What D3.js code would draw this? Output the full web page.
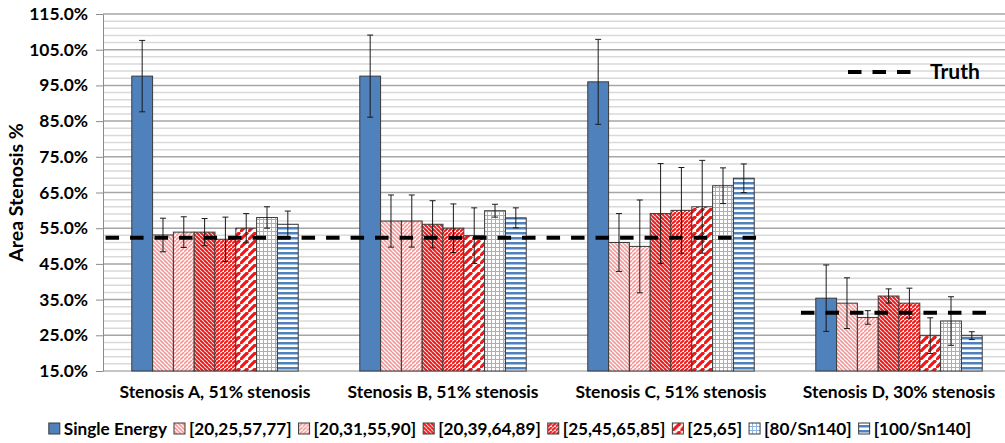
<!DOCTYPE html>
<html>
<head>
<meta charset="utf-8">
<script src="https://cdn.jsdelivr.net/npm/d3@7"></script>
<style>
  body { margin: 0; background: #fff; }
  text { font-family: Lato, "Open Sans", sans-serif; font-weight: bold; fill: #000; }
</style>
</head>
<body>
<svg width="1005" height="443"></svg>
<script>
const groups = ['Stenosis A, 51% stenosis', 'Stenosis B, 51% stenosis', 'Stenosis C, 51% stenosis', 'Stenosis D, 30% stenosis'];
const series = ['Single Energy', '[20,25,57,77]', '[20,31,55,90]', '[20,39,64,89]', '[25,45,65,85]', '[25,65]', '[80/Sn140]', '[100/Sn140]'];

// mean area stenosis per group (one value per series)
const meansA = [97.6, 53.1, 53.9, 53.9, 51.9, 55.0, 58.0, 56.1];
const meansB = [97.6, 57.0, 57.0, 56.1, 55.0, 52.9, 59.9, 57.9];
const meansC = [96.0, 51.0, 49.9, 59.1, 60.0, 61.0, 66.9, 69.0];
const meansD = [35.4, 34.0, 30.0, 36.0, 34.0, 24.9, 29.0, 24.9];
// error bar half widths
const errA = [10.0, 4.7, 4.3, 3.8, 6.2, 4.1, 3.0, 3.7];
const errB = [11.5, 7.3, 7.3, 6.6, 6.8, 7.8, 1.8, 2.8];
const errC = [11.9, 8.1, 13.0, 14.0, 12.0, 13.0, 5.0, 4.0];
const errD = [9.3, 7.1, 1.9, 2.0, 4.2, 5.0, 6.8, 1.1];
const truth = [52.3, 52.3, 52.3, 31.3];

const yTicks = [15, 25, 35, 45, 55, 65, 75, 85, 95, 105, 115];

const means = [meansA, meansB, meansC, meansD];
const errs = [errA, errB, errC, errD];

const data = [];
groups.forEach((g, gi) => {
    series.forEach((s, si) => {
        data.push({group: g, series: s, value: means[gi][si], err: errs[gi][si]});
    });
});

const svg = d3.select('svg');
const axisX = 103, plotRight = 1005;

const xScale = d3.scaleBand()
    .domain(groups)
    .range([101, 1013])
    .paddingInner(0.27)
    .paddingOuter(0.135);

const x1 = d3.scaleBand()
    .domain(series)
    .range([0, xScale.bandwidth()]);

const yScale = d3.scaleLinear()
    .domain([15, 115])
    .range([371, 14]);

// patterns
const defs = svg.append('defs');
function diag(id, size, color, width, dir) {
    const p = defs.append('pattern')
        .attr('id', id)
        .attr('patternUnits', 'userSpaceOnUse')
        .attr('width', size).attr('height', size);
    p.append('rect').attr('width', size).attr('height', size).attr('fill', '#fff');
    const s = size;
    const lines = dir === 'up'
        ? [[0, s, s, 0], [-s, s, 0, 0], [s, s * 2, s * 2, s]]
        : [[0, 0, s, s], [-s, 0, 0, s], [0, -s, s, 0], [s, 0, s * 2, s], [0, s, s, s * 2]];
    lines.forEach(l => p.append('line')
        .attr('x1', l[0]).attr('y1', l[1]).attr('x2', l[2]).attr('y2', l[3])
        .attr('stroke', color).attr('stroke-width', width));
}
diag('p1', 4, '#f59a9a', 1.7, 'down');
diag('p2', 4, '#f59a9a', 1.7, 'up');
diag('p3', 4, '#f01818', 2.0, 'down');
diag('p4', 4, '#f01818', 2.0, 'up');
diag('p5', 8, '#f01818', 3.2, 'up');

const grid = defs.append('pattern').attr('id', 'p6')
    .attr('patternUnits', 'userSpaceOnUse').attr('width', 4).attr('height', 4);
grid.append('rect').attr('width', 4).attr('height', 4).attr('fill', '#fff');
grid.append('rect').attr('x', 0).attr('y', 3).attr('width', 4).attr('height', 1).attr('fill', '#8fb4e3');
grid.append('rect').attr('x', 3).attr('y', 0).attr('width', 1).attr('height', 4).attr('fill', '#8fb4e3');

const hor = defs.append('pattern').attr('id', 'p7')
    .attr('patternUnits', 'userSpaceOnUse').attr('width', 5).attr('height', 5);
hor.append('rect').attr('width', 5).attr('height', 5).attr('fill', '#fff');
hor.append('rect').attr('y', 2).attr('width', 5).attr('height', 2.5).attr('fill', '#4f81bd');

const fills = ['#4f81bd', 'url(#p1)', 'url(#p2)', 'url(#p3)', 'url(#p4)', 'url(#p5)', 'url(#p6)', 'url(#p7)'];
const fillScale = d3.scaleOrdinal().domain(series).range(fills);

// gridlines
const minor = d3.range(17, 115, 2).filter(v => (v - 15) % 10 !== 0);
svg.append('g').selectAll('line').data(minor).enter().append('line')
    .attr('x1', axisX).attr('x2', plotRight)
    .attr('y1', d => yScale(d)).attr('y2', d => yScale(d))
    .attr('stroke', '#d9d9d9').attr('stroke-width', 1.5);
svg.append('g').selectAll('line').data(yTicks.slice(1)).enter().append('line')
    .attr('x1', axisX).attr('x2', plotRight)
    .attr('y1', d => yScale(d)).attr('y2', d => yScale(d))
    .attr('stroke', '#a6a6a6').attr('stroke-width', 1.5);

// y axis
const yAxis = d3.axisLeft(yScale)
    .tickValues(yTicks)
    .tickFormat(d => d3.format('.1f')(d) + '%')
    .tickSize(7)
    .tickSizeOuter(0)
    .tickPadding(8);
const yAxisG = svg.append('g')
    .attr('transform', `translate(${axisX},0)`)
    .call(yAxis);
yAxisG.selectAll('.domain').attr('stroke', '#8c8c8c');
yAxisG.selectAll('.tick line').attr('stroke', '#8c8c8c');
yAxisG.selectAll('text')
    .attr('font-family', null).attr('font-size', null)
    .style('font-size', '17.4px');

svg.append('text')
    .attr('transform', `translate(23,${(yScale(115) + yScale(15)) / 2}) rotate(-90)`)
    .attr('text-anchor', 'middle')
    .style('font-size', '19.5px')
    .text('Area Stenosis %');

// x axis line
svg.append('line')
    .attr('x1', axisX).attr('x2', plotRight)
    .attr('y1', yScale(15)).attr('y2', yScale(15))
    .attr('stroke', '#8c8c8c').attr('stroke-width', 1);

svg.append('g').selectAll('text').data(groups).enter().append('text')
    .attr('x', d => xScale(d) + xScale.bandwidth() / 2)
    .attr('y', 398)
    .attr('text-anchor', 'middle')
    .style('font-size', '17.5px')
    .text(d => d);

// bars
svg.append('g').selectAll('rect').data(data).enter().append('rect')
    .attr('x', d => xScale(d.group) + x1(d.series))
    .attr('y', d => yScale(d.value))
    .attr('width', x1.bandwidth())
    .attr('height', d => yScale(15) - yScale(d.value))
    .attr('fill', d => fillScale(d.series))
    .attr('stroke', '#3a3a3a')
    .attr('stroke-width', 1);

// error bars
const eb = svg.append('g').attr('stroke', '#1a1a1a').attr('stroke-width', 1);
data.forEach(d => {
    const cx = xScale(d.group) + x1(d.series) + x1.bandwidth() / 2;
    const top = yScale(d.value + d.err), bot = yScale(Math.max(15, d.value - d.err));
    eb.append('line').attr('x1', cx).attr('x2', cx).attr('y1', top).attr('y2', bot);
    eb.append('line').attr('x1', cx - 3).attr('x2', cx + 3).attr('y1', top).attr('y2', top);
    eb.append('line').attr('x1', cx - 3).attr('x2', cx + 3).attr('y1', bot).attr('y2', bot);
});

// truth lines, consecutive equal values merged into one run
const step = xScale.step();
const runs = [];
truth.forEach((t, i) => {
    const c = xScale(groups[i]) + xScale.bandwidth() / 2;
    const last = runs[runs.length - 1];
    if (last && last.value === t) last.x2 = c + step * 0.41;
    else runs.push({value: t, x1: c - step * (i === 0 ? 0.48 : 0.43), x2: c + step * 0.41});
});
svg.append('g').selectAll('line').data(runs).enter().append('line')
    .attr('x1', d => d.x1).attr('x2', d => d.x2)
    .attr('y1', d => yScale(d.value)).attr('y2', d => yScale(d.value))
    .attr('stroke', '#000').attr('stroke-width', 4)
    .attr('stroke-dasharray', '13.5,11');

// truth legend
svg.append('line')
    .attr('x1', 848).attr('x2', 912).attr('y1', 72).attr('y2', 72)
    .attr('stroke', '#000').attr('stroke-width', 4)
    .attr('stroke-dasharray', '13.5,11');
svg.append('text')
    .attr('x', 930).attr('y', 79)
    .style('font-size', '21px')
    .text('Truth');

// legend
const legend = svg.append('g');
const items = legend.selectAll('g').data(series).enter().append('g');
items.append('rect')
    .attr('width', 11).attr('height', 11)
    .attr('fill', d => fillScale(d))
    .attr('stroke', '#3a3a3a').attr('stroke-width', 1);
items.append('text')
    .attr('x', 15).attr('y', 11.5)
    .style('font-size', '17.2px')
    .text(d => d);
let lx = 0;
items.each(function() {
    const w = d3.select(this).select('text').node().getComputedTextLength();
    d3.select(this).attr('transform', `translate(${lx},0)`);
    lx += 15 + w + 7;
});
lx -= 7;
legend.attr('transform', `translate(${510 - lx / 2},423)`);
</script>
</body>
</html>
